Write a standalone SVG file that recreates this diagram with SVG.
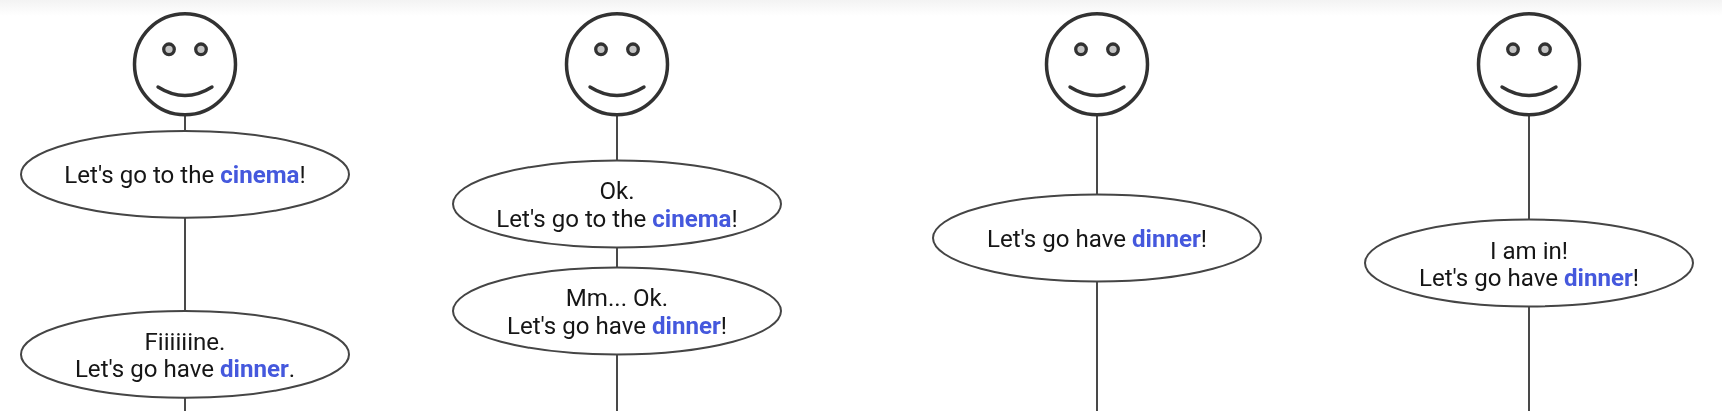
<svg xmlns="http://www.w3.org/2000/svg" width="1722" height="415" viewBox="0 0 1722 415">
<style>
.l{stroke:#4a4a4a;stroke-width:2;fill:none}
.h{fill:#fff;stroke:#333;stroke-width:3.5}
.e{fill:#c4c4c4;stroke:#333;stroke-width:3.3}
.m{fill:none;stroke:#333;stroke-width:3.4;stroke-linecap:round}
.b{fill:#fff;stroke:#444;stroke-width:2}
text{font-family:Roboto,"Liberation Sans",sans-serif;font-size:24.1px;fill:#151515;text-anchor:middle}
.c{fill:#4459dd;font-weight:700}
#all{filter:url(#soft)}
</style>
<defs>
<linearGradient id="t" x1="0" y1="0" x2="0" y2="1"><stop offset="0" stop-color="#f3f3f3"/><stop offset="1" stop-color="#fff"/></linearGradient>
<filter id="soft" x="0" y="0" width="1722" height="415" filterUnits="userSpaceOnUse"><feGaussianBlur stdDeviation="0.45"/></filter>
<g id="face"><circle class="h" cx="0" cy="64.3" r="50.5"/><circle class="e" cx="-16" cy="49.3" r="5.3"/><circle class="e" cx="16" cy="49.3" r="5.3"/><path class="m" d="M-27 87Q0 104 27 87"/></g>
</defs>
<rect width="1722" height="16" fill="url(#t)"/>
<g id="all">
<g id="connectors">
<line class="l" x1="185" y1="115" x2="185" y2="411"/>
<line class="l" x1="617" y1="115" x2="617" y2="411"/>
<line class="l" x1="1097" y1="115" x2="1097" y2="411"/>
<line class="l" x1="1529" y1="115" x2="1529" y2="411"/>
</g>
<g id="person1"><use href="#face" x="185"/></g>
<g id="person2"><use href="#face" x="617"/></g>
<g id="person3"><use href="#face" x="1097"/></g>
<g id="person4"><use href="#face" x="1529"/></g>
<g id="msg1"><ellipse class="b" cx="185" cy="174.4" rx="164" ry="43.4"/><text x="185" y="183">Let's go to the <tspan class="c">cinema</tspan>!</text></g>
<g id="msg2"><ellipse class="b" cx="185" cy="354.4" rx="164" ry="43.4"/><text x="185" y="349.5">Fiiiiiine.</text><text x="185" y="377">Let's go have <tspan class="c">dinner</tspan>.</text></g>
<g id="msg3"><ellipse class="b" cx="617" cy="204" rx="164" ry="43.4"/><text x="617" y="199">Ok.</text><text x="617" y="227">Let's go to the <tspan class="c">cinema</tspan>!</text></g>
<g id="msg4"><ellipse class="b" cx="617" cy="311" rx="164" ry="43.4"/><text x="617" y="306">Mm... Ok.</text><text x="617" y="334">Let's go have <tspan class="c">dinner</tspan>!</text></g>
<g id="msg5"><ellipse class="b" cx="1097" cy="238" rx="164" ry="43.4"/><text x="1097" y="247">Let's go have <tspan class="c">dinner</tspan>!</text></g>
<g id="msg6"><ellipse class="b" cx="1529" cy="263" rx="164" ry="43.4"/><text x="1529" y="258.5">I am in!</text><text x="1529" y="286">Let's go have <tspan class="c">dinner</tspan>!</text></g>
</g>
</svg>
